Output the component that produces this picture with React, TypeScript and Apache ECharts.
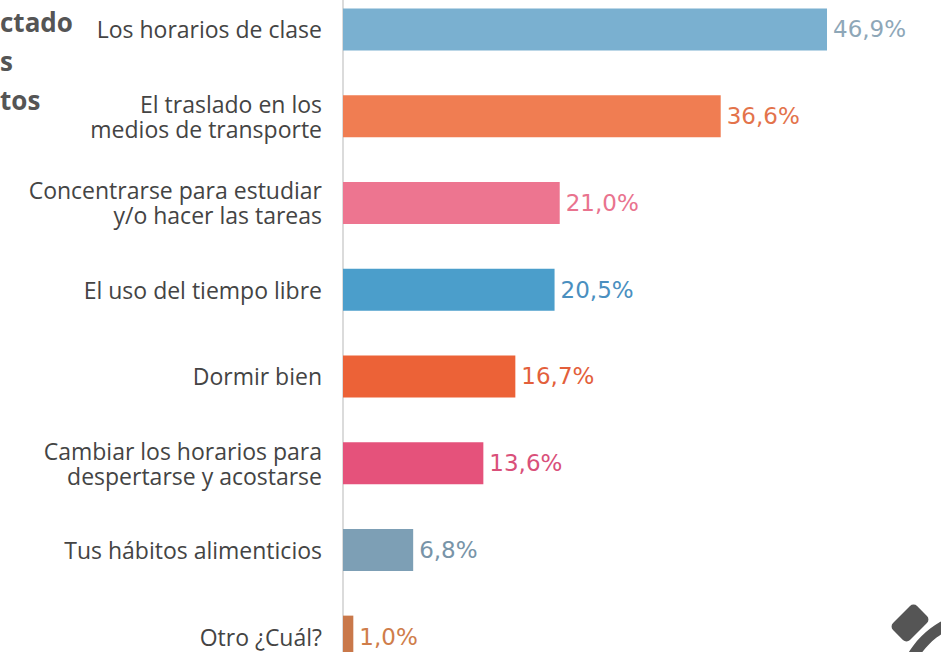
import React, { useEffect, useRef } from "react";
import * as echarts from "echarts";

const categories = [
  "Los horarios de clase",
  "El traslado en los\nmedios de transporte",
  "Concentrarse para estudiar\ny/o hacer las tareas",
  "El uso del tiempo libre",
  "Dormir bien",
  "Cambiar los horarios para\ndespertarse y acostarse",
  "Tus hábitos alimenticios",
  "Otro ¿Cuál?",
];
const values = [46.9, 36.6, 21.0, 20.5, 16.7, 13.6, 6.8, 1.0];
const valueLabels = ["46,9%", "36,6%", "21,0%", "20,5%", "16,7%", "13,6%", "6,8%", "1,0%"];
const barColors = ["#7ab0d0", "#f07d52", "#ed7590", "#4b9ecb", "#ec6237", "#e5527b", "#7d9fb5", "#c9784a"];
const labelColors = ["#8ea7b8", "#e3734b", "#e9738e", "#4a8fbf", "#e35f3b", "#d9507a", "#7894a8", "#cf7d4a"];
const titleFragment = "ctado\ns\ntos";

// the chart box starts above the page and ends below it, as the reference is cropped
const OFFSET = 14;

export default function App() {
  const ref = useRef<HTMLDivElement>(null);
  useEffect(() => {
    if (!ref.current) return;
    const chart = echarts.init(ref.current, null, { renderer: "svg" });
    chart.setOption({
      animation: false,
      backgroundColor: "#ffffff",
      grid: { left: 343, top: 0, width: 516, height: 694, containLabel: false },
      xAxis: {
        type: "value",
        min: 0,
        max: 50,
        show: false,
      },
      yAxis: {
        type: "category",
        inverse: true,
        data: categories,
        axisLine: { show: true, lineStyle: { color: "#cfcfcf", width: 1.5 } },
        axisTick: { show: false },
        axisLabel: {
          margin: 21,
          color: "#444444",
          fontFamily: "Open Sans",
          fontSize: 23,
          lineHeight: 25,
          align: "right",
        },
      },
      series: [
        {
          type: "bar",
          barWidth: 42,
          data: values.map((v, i) => ({
            value: v,
            itemStyle: { color: barColors[i] },
            label: {
              show: true,
              position: "right",
              distance: 6,
              formatter: valueLabels[i],
              color: labelColors[i],
              fontFamily: "DejaVu Sans",
              fontSize: 23,
            },
          })),
        },
      ],
      graphic: [
        {
          type: "text",
          left: 0,
          top: 16.5,
          style: {
            text: titleFragment,
            fill: "#555555",
            font: "bold 26px 'Open Sans'",
            lineHeight: 39,
          },
        },
        {
          type: "rect",
          x: 910,
          y: 623 + OFFSET,
          rotation: Math.PI / 4,
          shape: { x: -17, y: -12, width: 34, height: 24, r: 5 },
          style: { fill: "#555555" },
        },
        {
          type: "ring",
          shape: { cx: 985, cy: 700 + OFFSET, r: 90, r0: 79 },
          style: { fill: "#555555" },
        },
      ],
    });
    return () => chart.dispose();
  }, []);
  return (
    <div
      ref={ref}
      style={{ position: "fixed", left: 0, top: -OFFSET, width: 941, height: 694, background: "#fff" }}
    />
  );
}
